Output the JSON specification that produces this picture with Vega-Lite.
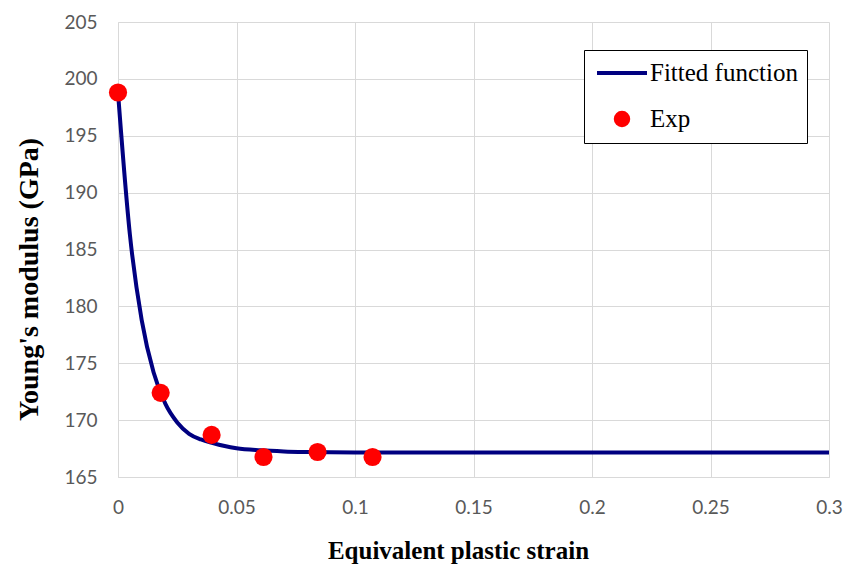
{
  "$schema": "https://vega.github.io/schema/vega-lite/v6.json",
  "width": 711,
  "height": 455,
  "autosize": {"type": "none"},
  "padding": {"left": 118, "top": 22, "right": 27, "bottom": 88},
  "background": "white",
  "config": {
    "view": {"stroke": null},
    "axis": {
      "labelFont": "Lato",
      "labelFontSize": 19,
      "labelColor": "#595959",
      "gridColor": "#d9d9d9",
      "gridWidth": 1,
      "domainColor": "#d9d9d9",
      "ticks": false,
      "labelFlush": false,
      "titleFont": "Liberation Serif",
      "titleFontWeight": "bold",
      "titleFontSize": 25,
      "titleColor": "black"
    }
  },
  "layer": [
    {
      "data": {"values": [
        {"strain": 0, "E": 198.8, "series": "Fitted function"},
        {"strain": 0.005, "E": 186.35, "series": "Fitted function"},
        {"strain": 0.01, "E": 178.79, "series": "Fitted function"},
        {"strain": 0.015, "E": 174.21, "series": "Fitted function"},
        {"strain": 0.02, "E": 171.43, "series": "Fitted function"},
        {"strain": 0.025, "E": 169.8, "series": "Fitted function"},
        {"strain": 0.03, "E": 168.8, "series": "Fitted function"},
        {"strain": 0.035, "E": 168.3, "series": "Fitted function"},
        {"strain": 0.04, "E": 167.98, "series": "Fitted function"},
        {"strain": 0.045, "E": 167.72, "series": "Fitted function"},
        {"strain": 0.05, "E": 167.53, "series": "Fitted function"},
        {"strain": 0.06, "E": 167.35, "series": "Fitted function"},
        {"strain": 0.07, "E": 167.25, "series": "Fitted function"},
        {"strain": 0.08, "E": 167.2, "series": "Fitted function"},
        {"strain": 0.1, "E": 167.16, "series": "Fitted function"},
        {"strain": 0.2, "E": 167.15, "series": "Fitted function"},
        {"strain": 0.3, "E": 167.15, "series": "Fitted function"}
      ]},
      "mark": {"type": "line", "strokeWidth": 4, "interpolate": "monotone"},
      "encoding": {
        "x": {"field": "strain", "type": "quantitative",
              "scale": {"domain": [0, 0.3], "nice": false},
              "axis": {"values": [0, 0.05, 0.1, 0.15, 0.2, 0.25, 0.3], "labelExpr": "datum.value === 0 ? '0' : format(datum.value, '~g')", "labelPadding": 21, "title": "Equivalent plastic strain", "titleX": 340, "titleY": 73, "titleAlign": "center", "titleBaseline": "middle"}},
        "y": {"field": "E", "type": "quantitative",
              "scale": {"domain": [165, 205], "nice": false, "zero": false},
              "axis": {"values": [165, 170, 175, 180, 185, 190, 195, 200, 205], "labelPadding": 21, "title": "Young's modulus (GPa)", "titleFontSize": 28, "titleX": -89, "titleY": 257, "titleAlign": "center", "titleBaseline": "middle", "titleAngle": -90}},
        "color": {"field": "series", "type": "nominal",
                  "scale": {"domain": ["Fitted function", "Exp"], "range": ["#000080", "#ff0000"]},
                  "legend": {
                    "title": null,
                    "orient": "none",
                    "legendX": 466,
                    "legendY": 28,
                    "strokeColor": "black",
                    "fillColor": "white",
                    "padding": 9,
                    "labelFont": "Liberation Serif",
                    "labelFontSize": 25,
                    "labelColor": "black",
                    "labelOffset": 3,
                    "symbolType": "stroke",
                    "symbolSize": 400,
                    "symbolStrokeWidth": 4,
                    "rowPadding": 18,
                    "encode": {
                      "symbols": {"update": {
                        "shape": {"signal": "datum.value === 'Exp' ? 'circle' : 'stroke'"},
                        "size": {"signal": "datum.value === 'Exp' ? 155 : 2500"},
                        "fill": {"signal": "datum.value === 'Exp' ? '#ff0000' : 'transparent'"},
                        "stroke": {"signal": "datum.value === 'Exp' ? 'transparent' : '#000080'"},
                        "strokeWidth": {"value": 4},
                        "opacity": {"value": 1},
                        "x": {"value": 29},
                        "y": {"value": 14}
                      }},
                      "labels": {"update": {"y": {"value": 14}}}
                    }
                  }}
      }
    },
    {
      "data": {"values": [
        {"strain": 0, "E": 198.8, "series": "Exp"},
        {"strain": 0.018, "E": 172.4, "series": "Exp"},
        {"strain": 0.0395, "E": 168.7, "series": "Exp"},
        {"strain": 0.0614, "E": 166.76, "series": "Exp"},
        {"strain": 0.0842, "E": 167.2, "series": "Exp"},
        {"strain": 0.1074, "E": 166.76, "series": "Exp"}
      ]},
      "mark": {"type": "circle", "size": 330, "opacity": 1},
      "encoding": {
        "x": {"field": "strain", "type": "quantitative"},
        "y": {"field": "E", "type": "quantitative"},
        "color": {"field": "series", "type": "nominal"}
      }
    }
  ]
}
